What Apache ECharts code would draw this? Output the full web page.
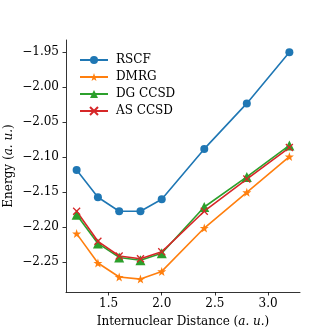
<!DOCTYPE html>
<html>
<head>
<meta charset="utf-8">
<script src="https://cdn.jsdelivr.net/npm/echarts@6/dist/echarts.min.js"></script>
<style>
  html, body { margin: 0; padding: 0; background: #fff; }
  #chart { width: 333px; height: 333px; }
</style>
</head>
<body>
<div id="chart"></div>
<script>
const distances = [1.2, 1.4, 1.6, 1.8, 2.0, 2.4, 2.8, 3.2]
const rscf = [-2.118, -2.157, -2.177, -2.177, -2.160, -2.088, -2.023, -1.950]
const dmrg = [-2.209, -2.251, -2.271, -2.274, -2.263, -2.201, -2.150, -2.099]
const dgCcsd = [-2.182, -2.223, -2.243, -2.247, -2.237, -2.171, -2.128, -2.083]
const asCcsd = [-2.177, -2.220, -2.241, -2.245, -2.235, -2.177, -2.131, -2.086]
const xTicks = [1.5, 2.0, 2.5, 3.0]
const yTicks = [-2.25, -2.20, -2.15, -2.10, -2.05, -2.00, -1.95]

const font = 'DejaVu Serif'
const fs = 12
const star = 'path://M0,-10L2.35,-3.24L9.51,-3.09L3.8,1.24L5.88,8.09L0,4L-5.88,8.09L-3.8,1.24L-9.51,-3.09L-2.35,-3.24Z'
const cross = 'path://M0,0L10,10M10,0L0,10'

const pairs = (ys) => distances.map((x, i) => [x, ys[i]])
const fmtMinus = (v) => (v < 0 ? '\u2212' : '') + Math.abs(v).toFixed(2)

const mk = (name, data, color, symbol, size, extra) => Object.assign({
  name,
  type: 'line',
  data: pairs(data),
  color,
  symbol,
  symbolSize: size,
  showSymbol: true,
  lineStyle: { width: 1.6, color },
  itemStyle: { color },
  emphasis: { disabled: true }
}, extra || {})

const nameStyle = {
  fontFamily: font, fontSize: fs, color: '#000',
  rich: { i: { fontFamily: font, fontStyle: 'italic', fontSize: fs, color: '#000' } }
}

const chart = echarts.init(document.getElementById('chart'), null, { renderer: 'canvas' })
chart.setOption({
  animation: false,
  textStyle: { fontFamily: font },
  grid: { left: 66, right: 33, top: 40, bottom: 41, containLabel: false, outerBoundsMode: 'none' },
  legend: {
    orient: 'vertical',
    left: 74,
    top: 49,
    itemWidth: 28,
    itemHeight: 10,
    itemGap: 5,
    textStyle: { fontFamily: font, fontSize: fs, lineHeight: 12, color: '#000', padding: [0, 0, 0, 3] },
    data: ['RSCF', 'DMRG', 'DG CCSD', 'AS CCSD']
  },
  xAxis: {
    type: 'value',
    min: 1.1,
    max: 3.3,
    name: 'Internuclear Distance ({i|a. u.})',
    nameLocation: 'middle',
    nameGap: 24,
    nameMoveOverlap: false,
    nameTextStyle: nameStyle,
    axisLine: { lineStyle: { color: '#000', width: 0.8 } },
    axisTick: { show: true, length: 3.5, lineStyle: { color: '#000', width: 0.8 }, customValues: xTicks },
    axisLabel: { fontFamily: font, fontSize: fs, color: '#000', margin: 6, customValues: xTicks, formatter: (v) => v.toFixed(1) },
    splitLine: { show: false }
  },
  yAxis: {
    type: 'value',
    min: -2.2924,
    max: -1.9324,
    name: 'Energy ({i|a. u.})',
    nameLocation: 'middle',
    nameGap: 51,
    nameMoveOverlap: false,
    nameTextStyle: nameStyle,
    axisLine: { show: true, lineStyle: { color: '#000', width: 0.8 } },
    axisTick: { show: true, length: 3.5, lineStyle: { color: '#000', width: 0.8 }, customValues: yTicks },
    axisLabel: { fontFamily: font, fontSize: fs, color: '#000', margin: 7, customValues: yTicks, formatter: fmtMinus },
    splitLine: { show: false }
  },
  series: [
    mk('RSCF', rscf, '#1f77b4', 'circle', 8),
    mk('DMRG', dmrg, '#ff7f0e', star, 9),
    mk('DG CCSD', dgCcsd, '#2ca02c', 'triangle', 10),
    mk('AS CCSD', asCcsd, '#d62728', cross, 7, {
      itemStyle: { color: '#d62728', borderColor: '#d62728', borderWidth: 1.3 }
    })
  ]
})
</script>
</body>
</html>
